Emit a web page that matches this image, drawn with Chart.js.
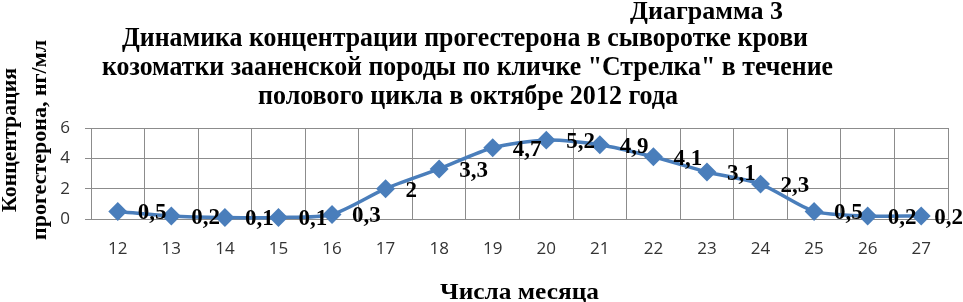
<!DOCTYPE html>
<html>
<head>
<meta charset="utf-8">
<script src="https://cdn.jsdelivr.net/npm/chart.js@4.4.0/dist/chart.umd.min.js"></script>
<style>
  html, body { margin: 0; padding: 0; background: #fff; }
  #wrap { width: 963px; height: 302px; }
</style>
</head>
<body>
<div id="wrap"><canvas id="myChart" width="963" height="302"></canvas></div>
<script>
const days = ['12', '13', '14', '15', '16', '17', '18', '19', '20', '21', '22', '23', '24', '25', '26', '27'];
const progesterone = [0.5, 0.2, 0.1, 0.1, 0.3, 2, 3.3, 4.7, 5.2, 4.9, 4.1, 3.1, 2.3, 0.5, 0.2, 0.2];
const yTicks = [0, 2, 4, 6];

const titleLines = [
  { text: 'Диаграмма 3', x: 630, w: 153, y: 19, size: 25 },
  { text: 'Динамика концентрации прогестерона в сыворотке крови', x: 122, w: 686, y: 46, size: 27 },
  { text: 'козоматки зааненской породы по кличке "Стрелка" в течение', x: 102, w: 731, y: 75, size: 27 },
  { text: 'полового цикла в октябре 2012 года', x: 258, w: 420, y: 104, size: 27 }
];
const yTitle = ['Концентрация', 'прогестерона, нг/мл'];
const xTitle = 'Числа месяца';

function serif(size) {
  return 'bold ' + size + 'px "Liberation Serif", "Times New Roman", serif';
}

// draw text squeezed to a given width
function fitText(ctx, text, x, y, w, font) {
  ctx.save();
  ctx.font = font;
  const m = ctx.measureText(text).width;
  ctx.translate(x, y);
  ctx.scale(w / m, 1);
  ctx.fillText(text, 0, 0);
  ctx.restore();
}

const headings = {
  id: 'headings',
  afterDraw(chart) {
    const ctx = chart.ctx;
    ctx.save();
    ctx.fillStyle = '#000';
    ctx.textAlign = 'left';
    ctx.textBaseline = 'alphabetic';
    titleLines.forEach(l => fitText(ctx, l.text, l.x, l.y, l.w, serif(l.size)));
    // x axis title
    fitText(ctx, xTitle, 440, 299, 159, serif(24));
    // y axis title, two rotated lines
    ctx.save();
    ctx.translate(0, 140);
    ctx.rotate(-Math.PI / 2);
    ctx.textBaseline = 'middle';
    fitText(ctx, yTitle[0], -72, 10, 144, serif(22));
    fitText(ctx, yTitle[1], -100, 40, 200, serif(22));
    ctx.restore();
    ctx.restore();
  }
};

const valueLabels = {
  id: 'valueLabels',
  afterDatasetsDraw(chart) {
    const ctx = chart.ctx;
    const meta = chart.getDatasetMeta(0);
    ctx.save();
    ctx.font = serif(23);
    ctx.fillStyle = '#000';
    ctx.textAlign = 'left';
    ctx.textBaseline = 'middle';
    meta.data.forEach((pt, i) => {
      const txt = String(progesterone[i]).replace('.', ',');
      const w = ctx.measureText(txt).width;
      const x = Math.min(pt.x + 20, chart.width - w);
      ctx.fillText(txt, x, pt.y + 2);
    });
    ctx.restore();
  }
};

const data = {
  labels: days,
  datasets: [{
    data: progesterone,
    borderColor: '#4a7ebb',
    backgroundColor: '#4a7ebb',
    borderWidth: 3.5,
    pointStyle: 'rectRot',
    pointRadius: 7,
    pointHoverRadius: 7,
    tension: 0.25,
    clip: false
  }]
};

const options = {
  responsive: false,
  animation: false,
  layout: { padding: { top: 128, right: 15, left: 0, bottom: 0 } },
  plugins: {
    legend: { display: false },
    title: { display: false },
    tooltip: { enabled: false }
  },
  scales: {
    x: {
      offset: true,
      grid: { color: '#8c8c8c', offset: true, drawTicks: false },
      border: { color: '#8c8c8c' },
      ticks: { color: '#333', font: { family: 'Open Sans', size: 17 }, padding: 20 },
      afterFit(scale) { scale.height = 83; }
    },
    y: {
      min: 0,
      max: 6,
      afterBuildTicks(scale) { scale.ticks = yTicks.map(v => ({ value: v })); },
      grid: { color: '#8c8c8c', tickLength: 6 },
      border: { color: '#8c8c8c' },
      ticks: { color: '#333', font: { family: 'Open Sans', size: 17 }, padding: 15 },
      afterFit(scale) { scale.width = 91; }
    }
  }
};

new Chart(document.querySelector('#myChart'), {
  type: 'line',
  data: data,
  options: options,
  plugins: [headings, valueLabels]
});
</script>
</body>
</html>
